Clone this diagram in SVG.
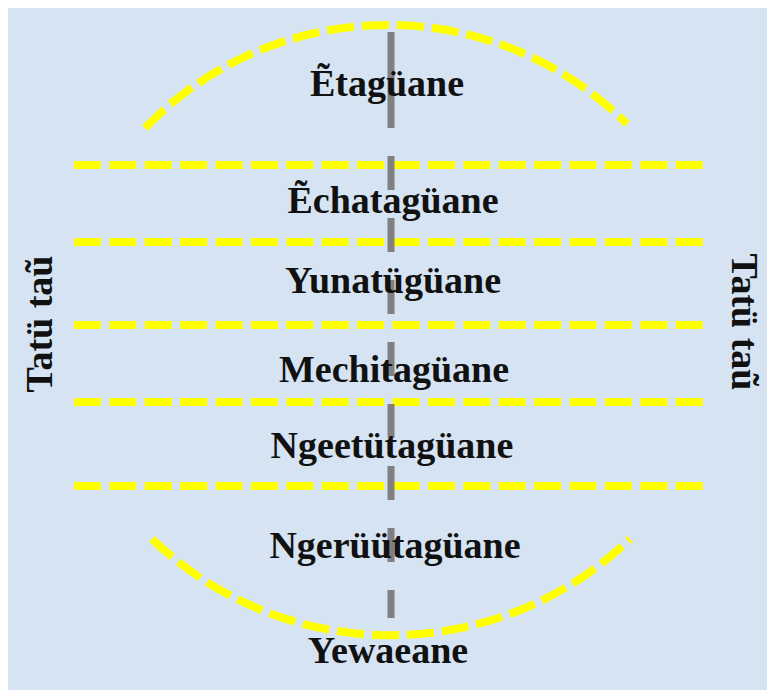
<svg xmlns="http://www.w3.org/2000/svg" width="767" height="690" viewBox="0 0 767 690">
  <style>
    .lbl { font-family: "Liberation Serif", "Times New Roman", serif; font-weight: bold; font-size: 38px; fill: #111; text-anchor: middle; }
    .band { stroke: #ffff00; stroke-width: 8; fill: none; stroke-dasharray: 27 8.4; }
    .arc { stroke: #ffff00; stroke-width: 8; fill: none; stroke-dasharray: 27 8; }
    .axis { stroke: #808080; stroke-width: 7; fill: none; }
  </style>
  <rect x="0" y="0" width="767" height="690" fill="#ffffff"/>
  <rect x="8" y="8" width="759" height="682" fill="#d5e3f2"/>
  <g id="connectors">
    <path class="arc" d="M145,128 A338,338 0 0 1 627,124"/>
    <path class="arc" d="M152,539 A345,345 0 0 0 630,539"/>
    <line class="band" x1="74" y1="165" x2="703" y2="165"/>
    <line class="band" x1="74" y1="242" x2="703" y2="242"/>
    <line class="band" x1="74" y1="325" x2="703" y2="325"/>
    <line class="band" x1="74" y1="402" x2="703" y2="402"/>
    <line class="band" x1="74" y1="486" x2="703" y2="486"/>
    <line class="axis" x1="391" y1="32" x2="391" y2="128"/>
    <line class="axis" x1="391" y1="156" x2="391" y2="618" stroke-dasharray="34 28"/>
  </g>
  <g id="etaguane"><text class="lbl" x="387" y="96">Ẽtagüane</text></g>
  <g id="echataguane"><text class="lbl" x="393" y="213">Ẽchatagüane</text></g>
  <g id="yunatuguane"><text class="lbl" x="393" y="293">Yunatügüane</text></g>
  <g id="mechitaguane"><text class="lbl" x="394" y="382">Mechitagüane</text></g>
  <g id="ngeetutaguane"><text class="lbl" x="392" y="458">Ngeetütagüane</text></g>
  <g id="ngeruutaguane"><text class="lbl" x="395" y="558">Ngerüütagüane</text></g>
  <g id="yewaeane"><text class="lbl" x="388" y="663">Yewaeane</text></g>
  <g id="tatu-left"><text class="lbl" transform="translate(52,324) rotate(-90)">Tatü taũ</text></g>
  <g id="tatu-right"><text class="lbl" transform="translate(732,322) rotate(90)">Tatü taũ</text></g>
</svg>
